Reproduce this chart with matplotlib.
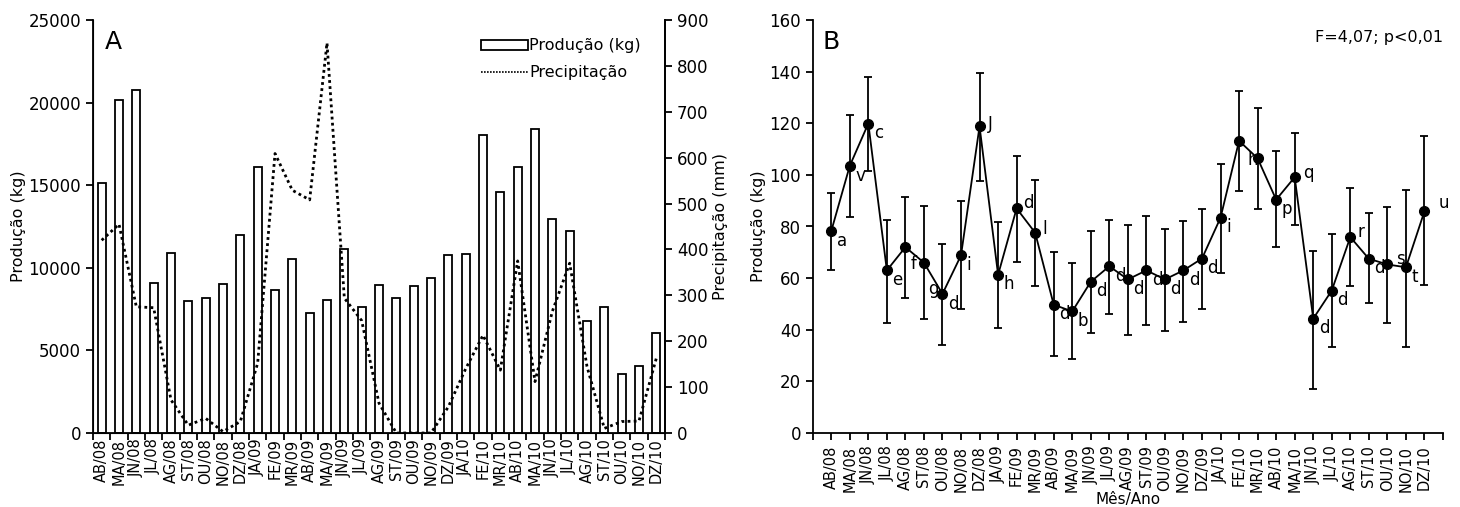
import matplotlib
matplotlib.use('Agg')
import matplotlib.pyplot as plt
import numpy as np
from matplotlib.patches import Rectangle
from matplotlib.lines import Line2D

plt.rcParams['font.family'] = 'DejaVu Sans'

# ── Data ──────────────────────────────────────────────────────────────────────
months = ['AB/08', 'MA/08', 'JN/08', 'JL/08', 'AG/08', 'ST/08', 'OU/08', 'NO/08', 'DZ/08',
          'JA/09', 'FE/09', 'MR/09', 'AB/09', 'MA/09', 'JN/09', 'JL/09', 'AG/09', 'ST/09',
          'OU/09', 'NO/09', 'DZ/09', 'JA/10', 'FE/10', 'MR/10', 'AB/10', 'MA/10', 'JN/10',
          'JL/10', 'AG/10', 'ST/10', 'OU/10', 'NO/10', 'DZ/10']

# panel A
producao_total = [15150, 20150, 20750, 9050, 10900, 7980, 8160, 8990, 11990,
                  16100, 8650, 10550, 7250, 8050, 11120, 7650, 8950, 8200,
                  8900, 9400, 10790, 10860, 18030, 14590, 16080, 18430, 12930,
                  12240, 6780, 7650, 3590, 4070, 6070]
precipitacao = [420, 455, 275, 273, 72, 17, 32, 3, 25,
                152, 609, 529, 508, 850, 294, 245, 65, 0,
                0, 0, 57, 140, 213, 137, 375, 112, 265,
                370, 145, 10, 25, 26, 163]

# panel B
media = [78.2, 103.5, 119.9, 63.0, 72.0, 66.0, 53.9, 68.8, 118.8,
         61.3, 87.0, 77.6, 49.7, 47.1, 58.6, 64.6, 59.5, 63.0,
         59.5, 63.0, 67.6, 83.4, 113.2, 106.4, 90.4, 99.1, 44.3,
         55.2, 75.9, 67.5, 65.3, 64.2, 85.9]
limite_sup = [93.1, 123.2, 138.0, 82.7, 91.6, 87.9, 73.3, 90.0, 139.3,
              81.7, 107.5, 98.2, 70.3, 65.8, 78.4, 82.7, 80.4, 84.0,
              79.0, 82.3, 86.6, 104.3, 132.4, 125.9, 109.4, 116.3, 70.7,
              77.2, 95.0, 85.3, 87.5, 94.3, 114.9]
limite_inf = [63.0, 83.5, 101.5, 42.6, 52.2, 44.0, 33.9, 47.9, 97.8,
              40.6, 66.2, 56.9, 29.8, 28.5, 38.9, 46.2, 37.8, 41.9,
              39.7, 43.0, 48.1, 62.1, 93.9, 86.8, 72.0, 80.7, 17.0,
              33.3, 56.9, 50.3, 42.8, 33.3, 57.4]
letras = ['a', 'v', 'c', 'e', 'f', 'g', 'd', 'i', 'J',
          'h', 'd', 'l', 'd', 'b', 'd', 'd', 'd', 'd',
          'd', 'd', 'd', 'i', 'h', '', 'p', 'q', 'd',
          'd', 'r', 'd', 's', 't', 'u']

# label offsets in points (default lower right)
OFFSET_DEFAULT = (4, -7)
offsets = {4: (4, -12), 5: (3, -19), 8: (6, 2), 10: (5, 4), 11: (5, 3), 25: (6, 3),
           28: (5, 4), 30: (6, 4), 32: (10, 6), 22: (6, -14)}

x = np.arange(len(months))

fig = plt.figure(figsize=(14.6, 5.07), dpi=100)

# ── Panel A ───────────────────────────────────────────────────────────────────
axA = fig.add_axes([93 / 1460, 74 / 507, 572 / 1460, 413 / 507])
axA.bar(x, producao_total, width=0.47, color='white', edgecolor='black', linewidth=1.3, zorder=2)
axA.set_xlim(-0.5, len(months) - 0.5)
axA.set_ylim(0, 25000)
axA.set_yticks(np.arange(0, 25001, 5000))
axA.set_xticks(x)
axA.set_xticklabels(months, rotation=90, fontsize=10.5)
axA.set_xticks(np.arange(-0.5, len(months), 1), minor=True)
axA.tick_params(axis='x', which='major', length=0, pad=4)
axA.tick_params(axis='x', which='minor', length=5, width=1.3, direction='out')
axA.tick_params(axis='y', length=5, width=1.3, labelsize=12)
axA.set_ylabel('Produção (kg)', fontsize=11.5, labelpad=2)
axA.spines['top'].set_visible(False)
for s in ['left', 'bottom', 'right']:
    axA.spines[s].set_linewidth(1.3)
axA.text(0.02, 0.975, 'A', transform=axA.transAxes, fontsize=18, va='top', ha='left')

axP = axA.twinx()
axP.plot(x, precipitacao, linestyle=(0, (1, 1.2)), color='black', linewidth=2, zorder=3)
axP.set_ylim(0, 900)
axP.set_yticks(np.arange(0, 901, 100))
axP.tick_params(axis='y', length=5, width=1.3, labelsize=12)
axP.set_ylabel('Precipitação (mm)', fontsize=11.5, labelpad=3)
axP.spines['top'].set_visible(False)
axP.spines['right'].set_linewidth(1.3)

handles = [Rectangle((0, 0), 1, 1, facecolor='white', edgecolor='black', linewidth=1.3),
           Line2D([0], [0], linestyle=(0, (1, 0.8)), color='black', linewidth=1.2)]
axA.legend(handles, ['Produção (kg)', 'Precipitação'], loc='upper left',
           bbox_to_anchor=(0.665, 0.975), frameon=False, fontsize=11.5,
           handlelength=2.9, handleheight=0.6, handletextpad=0.1,
           borderpad=0, labelspacing=0.75)

# ── Panel B ───────────────────────────────────────────────────────────────────
axB = fig.add_axes([812.7 / 1460, 74 / 507, 630.3 / 1460, 413 / 507])
media_arr = np.array(media)
yerr = [media_arr - np.array(limite_inf), np.array(limite_sup) - media_arr]
axB.errorbar(x, media, yerr=yerr, fmt='o-', color='black', markersize=7,
             linewidth=1.3, elinewidth=1.3, capsize=3, capthick=1.3)
for i, lab in enumerate(letras):
    if not lab:
        continue
    dx, dy = offsets.get(i, OFFSET_DEFAULT)
    axB.annotate(lab, (x[i], media[i]), xytext=(dx, dy), textcoords='offset points',
                 fontsize=12, ha='left', va='center')
axB.set_xlim(-1, len(months))
axB.set_ylim(0, 160)
axB.set_yticks(np.arange(0, 161, 20))
axB.set_xticks(np.arange(-1, len(months) + 1))
axB.set_xticklabels([''] + months + [''], rotation=90, fontsize=10.5)
axB.tick_params(axis='x', length=5, width=1.3, pad=4)
axB.tick_params(axis='y', length=5, width=1.3, labelsize=12)
axB.set_ylabel('Produção (kg)', fontsize=11.5, labelpad=2)
axB.set_xlabel('Mês/Ano', fontsize=11, labelpad=0)
axB.spines['top'].set_visible(False)
axB.spines['right'].set_visible(False)
for s in ['left', 'bottom']:
    axB.spines[s].set_linewidth(1.3)
axB.text(0.015, 0.975, 'B', transform=axB.transAxes, fontsize=18, va='top', ha='left')
axB.text(1.0, 0.975, 'F=4,07; p<0,01', transform=axB.transAxes, fontsize=11.5,
         va='top', ha='right')

plt.savefig('out.png', dpi=100)
plt.close()
